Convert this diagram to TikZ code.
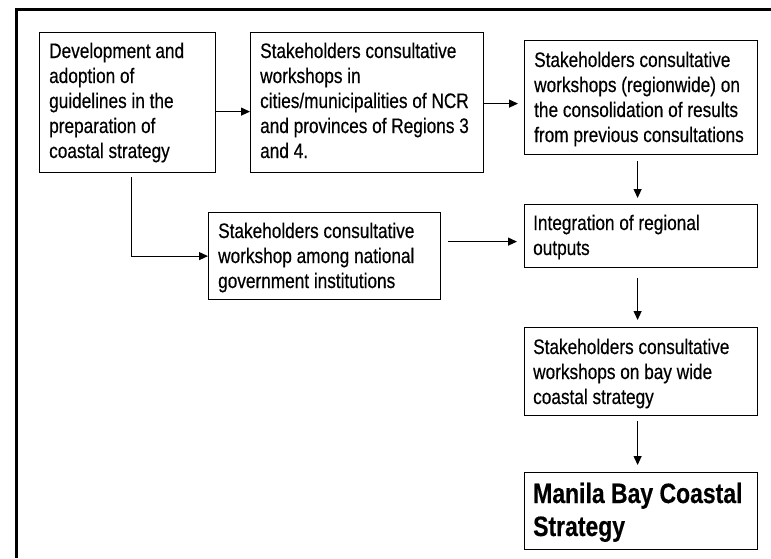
\documentclass[tikz,border=0pt]{standalone}
\usepackage{fontspec}
\setmainfont[FakeStretch=0.82,FakeBold=0.4]{Liberation Sans}
\usetikzlibrary{arrows.meta,calc}
\begin{document}
\begin{tikzpicture}[x=1pt,y=-1pt,
  box/.style={draw,line width=1.2pt,rectangle,inner sep=0pt,anchor=north west},
  txt/.style={anchor=base west,inner sep=0pt,font=\fontsize{21}{25}\selectfont},
  bigtxt/.style={anchor=base west,inner sep=0pt,font=\fontsize{28}{33}\selectfont\bfseries},
  arr/.style={line width=1.1pt,-{Triangle[length=9pt,width=8pt]}},
  frame/.style={line width=3pt}]
\useasboundingbox (0,0) rectangle (771,558);
% outer frame
\coordinate (FT) at (771,9.5);
\coordinate (FC) at (16.5,9.5);
\coordinate (FB) at (16.5,558);
\draw[frame] (FT) -- (FC) -- (FB);
% boxes
\node[box,minimum width=176pt,minimum height=140pt] (A) at (39,32) {};
\node[box,minimum width=233pt,minimum height=140pt] (B) at (250,32) {};
\node[box,minimum width=233pt,minimum height=114pt] (C) at (524,40) {};
\node[box,minimum width=233pt,minimum height=63pt] (D) at (524,204) {};
\node[box,minimum width=232pt,minimum height=87pt] (E) at (208,212) {};
\node[box,minimum width=233pt,minimum height=88pt] (F) at (524,327) {};
\node[box,minimum width=233pt,minimum height=77pt] (G) at (524,472) {};
% texts
\node[txt] (At) at ($(A.north west)+(10,26)$) {\begin{tabular}[t]{@{}l@{}}Development and\\ adoption of\\ guidelines in the\\ preparation of\\ coastal strategy\end{tabular}};
\node[txt] (Bt) at ($(B.north west)+(10,26)$) {\begin{tabular}[t]{@{}l@{}}Stakeholders consultative\\ workshops in\\ cities/municipalities of NCR\\ and provinces of Regions 3\\ and 4.\end{tabular}};
\node[txt] (Ct) at ($(C.north west)+(10,27)$) {\begin{tabular}[t]{@{}l@{}}Stakeholders consultative\\ workshops (regionwide) on\\ the consolidation of results\\ from previous consultations\end{tabular}};
\node[txt] (Dt) at ($(D.north west)+(9,26)$) {\begin{tabular}[t]{@{}l@{}}Integration of regional\\ outputs\end{tabular}};
\node[txt] (Et) at ($(E.north west)+(10,26)$) {\begin{tabular}[t]{@{}l@{}}Stakeholders consultative\\ workshop among national\\ government institutions\end{tabular}};
\node[txt] (Ft) at ($(F.north west)+(9,27)$) {\begin{tabular}[t]{@{}l@{}}Stakeholders consultative\\ workshops on bay wide\\ coastal strategy\end{tabular}};
\node[bigtxt] (Gt) at ($(G.north west)+(9,31)$) {\begin{tabular}[t]{@{}l@{}}Manila Bay Coastal\\ Strategy\end{tabular}};
% connectors
\draw[arr] ($(A.east)+(0,9)$) -- ($(B.west)+(0,9)$);
\draw[arr,shorten >=6pt] ($(B.east)+(0,1)$) -- (C.west |- {$(B.east)+(0,1)$});
\draw[arr,shorten <=6pt,shorten >=6pt] ($(C.south)+(-3.5,0)$) -- ($(D.north)+(-3.5,0)$);
\draw[arr,shorten <=4pt] ($(A.south)+(4,0)$) |- (E.west);
\coordinate (ED) at ($(D.west)+(0,5.5)$);
\draw[arr,shorten <=7pt,shorten >=7pt] (E.east |- ED) -- (ED);
\draw[arr,shorten <=10pt,shorten >=7pt] ($(D.south)+(-3.5,0)$) -- ($(F.north)+(-3.5,0)$);
\draw[arr,shorten <=5pt,shorten >=7pt] ($(F.south)+(-3.5,0)$) -- ($(G.north)+(-3.5,0)$);
\end{tikzpicture}
\end{document}
